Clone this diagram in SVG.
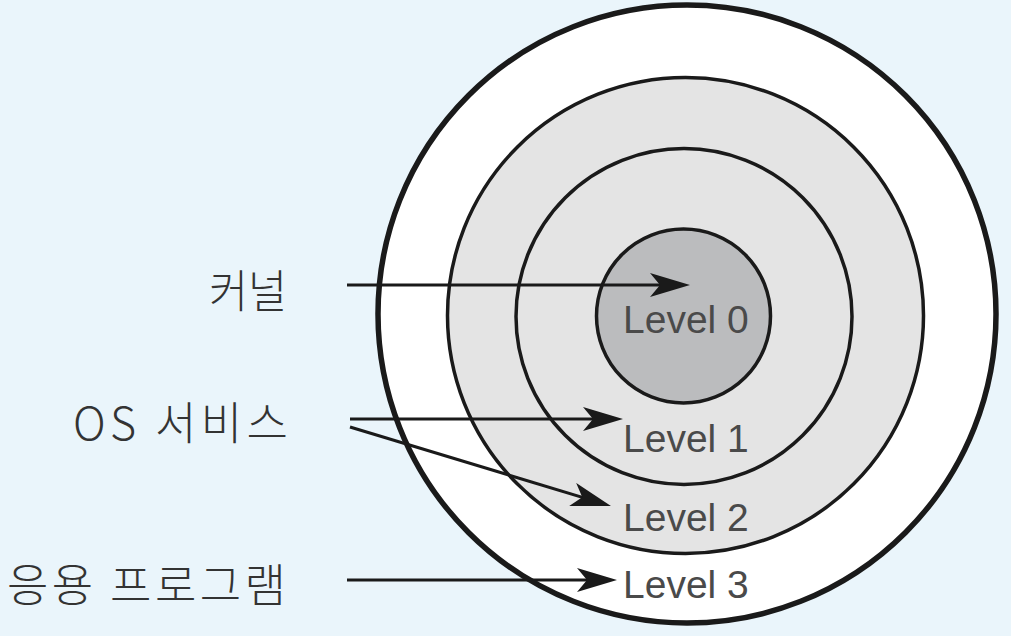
<svg xmlns="http://www.w3.org/2000/svg" width="1011" height="636" viewBox="0 0 1011 636">
<style>
.ring{stroke:#1a1a1a;stroke-width:3.5}
.lvl{font-family:"Liberation Sans",Arial,sans-serif;font-size:39px;fill:#4a4a4a}
.lab{font-family:"Noto Sans CJK KR","Noto Sans",sans-serif;font-size:45px;font-weight:300;fill:#333}
.conn{stroke:#1a1a1a;stroke-width:3;fill:none}
</style>
<defs>
<marker id="ah" viewBox="0 0 40 24" refX="30" refY="12" markerWidth="40" markerHeight="24" markerUnits="userSpaceOnUse" orient="auto">
<path d="M0,0 L40,12 L0,24 L10,12 Z" fill="#1a1a1a"/>
</marker>
</defs>
<rect width="1011" height="636" fill="#EAF5FB"/>
<g id="level3"><circle cx="687" cy="314" r="309" fill="#fff" stroke="#1a1a1a" stroke-width="5.5"/></g>
<g id="level2"><circle cx="685.5" cy="315.5" r="238" fill="#E4E4E4" class="ring"/></g>
<g id="level1"><circle cx="684" cy="316.5" r="168" fill="#E4E4E4" class="ring"/></g>
<g id="level0"><circle cx="683.5" cy="316" r="87" fill="#BBBCBE" class="ring"/></g>
<g id="labels-levels">
<text class="lvl" x="623" y="333">Level 0</text>
<text class="lvl" x="623" y="452">Level 1</text>
<text class="lvl" x="623" y="531">Level 2</text>
<text class="lvl" x="623" y="598">Level 3</text>
</g>
<g id="kernel"><text class="lab" x="287" y="308" text-anchor="end" textLength="78" lengthAdjust="spacingAndGlyphs">커널</text></g>
<g id="os-service"><text class="lab" x="288" y="440" text-anchor="end" textLength="215" lengthAdjust="spacing">OS 서비스</text></g>
<g id="application"><text class="lab" x="286" y="602" text-anchor="end" textLength="279" lengthAdjust="spacing">응용 프로그램</text></g>
<g id="connectors">
<line class="conn" x1="347" y1="285" x2="680" y2="285" marker-end="url(#ah)"/>
<line class="conn" x1="350" y1="419" x2="613" y2="419" marker-end="url(#ah)"/>
<line class="conn" x1="350" y1="427" x2="601.4" y2="503.1" marker-end="url(#ah)"/>
<line class="conn" x1="347" y1="580" x2="607" y2="580" marker-end="url(#ah)"/>
</g>
</svg>
